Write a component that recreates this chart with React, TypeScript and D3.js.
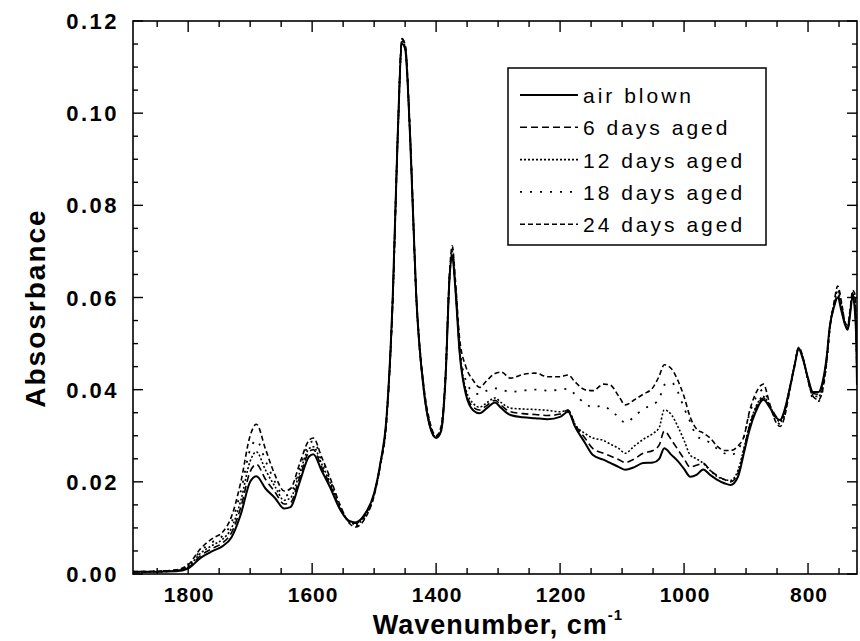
import React from "react";
import * as d3 from "d3";

const WAVENUMBERS = [1889,1850,1820,1800,1780,1760,1745,1730,1715,1700,1690,1675,1660,1645,1635,1620,1605,1598,1585,1570,1555,1540,1530,1515,1500,1490,1480,1470,1462,1455,1450,1442,1432,1420,1410,1400,1392,1385,1378,1374,1369,1362,1352,1340,1330,1318,1305,1295,1280,1260,1240,1220,1200,1187,1176,1160,1147,1130,1119,1105,1095,1080,1066,1050,1040,1032,1020,1010,1000,990,980,969,958,947,935,925,913,903,895,885,872,862,852,845,838,830,822,815,808,800,792,783,777,770,765,758,752,746,740,736,732,728,725,722,721];

const AIR_BLOWN = [.0005,.0005,.0006,.0012,.0035,.0050,.0060,.0080,.0130,.0200,.0212,.0185,.0165,.0142,.0145,.0200,.0255,.0260,.0225,.0185,.0140,.0115,.0112,.0130,.0175,.0240,.0340,.0600,.0950,.1150,.1140,.0950,.0600,.0400,.0320,.0295,.0310,.0420,.0650,.0690,.0620,.0480,.0390,.0355,.0349,.0360,.0372,.0360,.0345,.0340,.0338,.0336,.0341,.0352,.0320,.0285,.0258,.0248,.0241,.0232,.0226,.0232,.0241,.0242,.0250,.0273,.0258,.0245,.0228,.0211,.0215,.0227,.0215,.0205,.0197,.0193,.0211,.0265,.0310,.0350,.0378,.0362,.0340,.0334,.0355,.0400,.0450,.0488,.0465,.0425,.0395,.0395,.0414,.0470,.0536,.0580,.0600,.0570,.0540,.0530,.0565,.0605,.0580,.0500,.0410];

const DAYS_6 = [.0005,.0005,.0007,.0014,.0040,.0056,.0067,.0090,.0145,.0222,.0238,.0205,.0178,.0152,.0155,.0210,.0265,.0270,.0233,.0190,.0142,.0114,.0110,.0128,.0174,.0239,.0338,.0598,.0949,.1162,.1145,.0950,.0601,.0401,.0321,.0296,.0311,.0421,.0651,.0695,.0622,.0484,.0395,.0362,.0356,.0366,.0377,.0366,.0352,.0348,.0346,.0344,.0347,.0356,.0325,.0295,.0272,.0262,.0256,.0248,.0242,.0250,.0262,.0268,.0280,.0310,.0290,.0270,.0250,.0232,.0236,.0240,.0225,.0214,.0205,.0200,.0218,.0272,.0318,.0357,.0382,.0366,.0343,.0334,.0354,.0400,.0452,.0490,.0467,.0423,.0392,.0390,.0410,.0468,.0535,.0583,.0605,.0575,.0541,.0532,.0567,.0607,.0588,.0493,.0420];

const DAYS_12 = [.0005,.0005,.0007,.0016,.0045,.0063,.0075,.0100,.0160,.0245,.0265,.0225,.0190,.0160,.0165,.0220,.0272,.0276,.0240,.0195,.0145,.0113,.0108,.0126,.0173,.0238,.0337,.0597,.0948,.1158,.1143,.0952,.0602,.0402,.0322,.0297,.0312,.0422,.0652,.0700,.0625,.0488,.0400,.0370,.0362,.0372,.0382,.0372,.0360,.0358,.0357,.0355,.0352,.0355,.0325,.0305,.0295,.0290,.0282,.0272,.0262,.0278,.0292,.0305,.0318,.0356,.0345,.0320,.0290,.0258,.0250,.0240,.0225,.0212,.0205,.0203,.0225,.0275,.0320,.0360,.0385,.0365,.0340,.0330,.0350,.0400,.0452,.0490,.0467,.0422,.0388,.0385,.0405,.0465,.0535,.0585,.0615,.0580,.0542,.0535,.0570,.0608,.0595,.0505,.0430];

const DAYS_18 = [.0005,.0006,.0008,.0018,.0050,.0070,.0082,.0112,.0180,.0270,.0290,.0245,.0200,.0170,.0175,.0230,.0282,.0288,.0250,.0200,.0148,.0112,.0105,.0123,.0172,.0237,.0335,.0595,.0945,.1155,.1145,.0955,.0605,.0405,.0325,.0298,.0315,.0425,.0655,.0705,.0632,.0495,.0420,.0395,.0390,.0398,.0403,.0400,.0395,.0398,.0400,.0398,.0400,.0402,.0390,.0370,.0362,.0365,.0355,.0340,.0328,.0342,.0358,.0368,.0380,.0410,.0415,.0395,.0360,.0330,.0300,.0292,.0285,.0272,.0262,.0258,.0270,.0300,.0345,.0380,.0400,.0365,.0335,.0325,.0345,.0398,.0450,.0490,.0468,.0420,.0380,.0375,.0395,.0460,.0530,.0585,.0620,.0585,.0545,.0535,.0570,.0610,.0605,.0525,.0445];

const DAYS_24 = [.0005,.0006,.0009,.0020,.0055,.0078,.0090,.0125,.0200,.0300,.0325,.0270,.0215,.0180,.0185,.0240,.0290,.0295,.0255,.0205,.0150,.0110,.0102,.0120,.0170,.0235,.0330,.0590,.0940,.1160,.1150,.0960,.0610,.0410,.0330,.0300,.0320,.0430,.0660,.0712,.0640,.0510,.0450,.0420,.0405,.0420,.0435,.0438,.0425,.0433,.0436,.0428,.0428,.0432,.0417,.0400,.0398,.0412,.0410,.0385,.0367,.0378,.0390,.0405,.0430,.0454,.0445,.0420,.0385,.0340,.0315,.0306,.0295,.0278,.0268,.0268,.0278,.0300,.0350,.0390,.0412,.0370,.0330,.0320,.0340,.0395,.0450,.0492,.0470,.0420,.0385,.0378,.0395,.0460,.0530,.0590,.0625,.0590,.0545,.0540,.0575,.0615,.0610,.0530,.0450];

const SERIES_LABELS = ["air blown", "6 days aged", "12 days aged", "18 days aged", "24 days aged"];
const SERIES_VALUES = [AIR_BLOWN, DAYS_6, DAYS_12, DAYS_18, DAYS_24];
const SERIES_DASH = ["none", "7,4", "2,2", "2,8", "5,3"];
const SERIES_WIDTH = [2, 1.6, 1.6, 1.8, 1.6];

const X_TICKS = [1800, 1600, 1400, 1200, 1000, 800];
const Y_TICKS = [0, 0.02, 0.04, 0.06, 0.08, 0.1, 0.12];

const W = 860, H = 641;
const L = 133, R = 857, T = 21, B = 574;

export default function App() {
  const x = d3.scaleLinear().domain([1889, 721]).range([L, R]);
  const y = d3.scaleLinear().domain([0, 0.12]).range([B, T]);
  const line = d3
    .line<number>()
    .x((_, i) => x(WAVENUMBERS[i]))
    .y((d) => y(d))
    .curve(d3.curveMonotoneX);

  const xMinor = d3.range(1850, 721, -50);
  const yMinor = d3.range(0, 0.1201, 0.005);
  const font = "'Liberation Sans', Arial, Helvetica, sans-serif";

  return (
    <svg width={W} height={H} style={{ position: "absolute", left: 0, top: 0, background: "#fff" }} fontFamily={font}>
      <defs>
        <clipPath id="plot">
          <rect x={L} y={T} width={R - L} height={B - T} />
        </clipPath>
      </defs>
      <rect x={0} y={0} width={W} height={H} fill="#fff" />
      <g clipPath="url(#plot)">
        {SERIES_VALUES.map((vals, i) => (
          <path
            key={i}
            d={line(vals) || ""}
            fill="none"
            stroke="#000"
            strokeWidth={SERIES_WIDTH[i]}
            strokeDasharray={SERIES_DASH[i]}
          />
        ))}
      </g>
      <rect x={L} y={T} width={R - L} height={B - T} fill="none" stroke="#000" strokeWidth={1.6} />
      {xMinor.map((v) => {
        const major = v % 200 === 0;
        const len = major ? 11 : 6;
        return (
          <g key={"x" + v}>
            <line x1={x(v)} x2={x(v)} y1={B} y2={B - len} stroke="#000" strokeWidth={1.4} />
            <line x1={x(v)} x2={x(v)} y1={T} y2={T + len} stroke="#000" strokeWidth={1.4} />
          </g>
        );
      })}
      {yMinor.map((v, i) => {
        const major = i % 4 === 0;
        const len = major ? 10 : 5;
        return (
          <g key={"y" + i}>
            <line x1={L} x2={L + len} y1={y(v)} y2={y(v)} stroke="#000" strokeWidth={1.4} />
            <line x1={R} x2={R - len} y1={y(v)} y2={y(v)} stroke="#000" strokeWidth={1.4} />
          </g>
        );
      })}
      {X_TICKS.map((v) => (
        <text key={"xl" + v} x={x(v) + 1} y={602} textAnchor="middle" fontSize={21} fontWeight="bold" letterSpacing={1}>
          {v}
        </text>
      ))}
      {Y_TICKS.map((v) => (
        <text key={"yl" + v} x={119} y={y(v) + 8} textAnchor="end" fontSize={22} fontWeight="bold" letterSpacing={2.5}>
          {d3.format(".2f")(v)}
        </text>
      ))}
      <text x={498} y={634} textAnchor="middle" fontSize={27} fontWeight="bold" letterSpacing={1}>
        Wavenumber, cm
        <tspan fontSize={15} dy={-14}>-1</tspan>
      </text>
      <text
        transform={`translate(45,${308}) rotate(-90)`}
        textAnchor="middle"
        fontSize={28}
        fontWeight="bold"
        letterSpacing={2}
      >
        Absosrbance
      </text>
      <rect x={508} y={68} width={258} height={177} fill="#fff" stroke="#000" strokeWidth={1.5} />
      {SERIES_LABELS.map((lab, i) => {
        const base = 103 + i * 32.3;
        return (
          <g key={lab}>
            <line x1={520} x2={578} y1={base - 8} y2={base - 8} stroke="#000" strokeWidth={SERIES_WIDTH[i]} strokeDasharray={SERIES_DASH[i]} />
            <text x={583} y={base} fontSize={21} letterSpacing={3}>
              {lab}
            </text>
          </g>
        );
      })}
    </svg>
  );
}
